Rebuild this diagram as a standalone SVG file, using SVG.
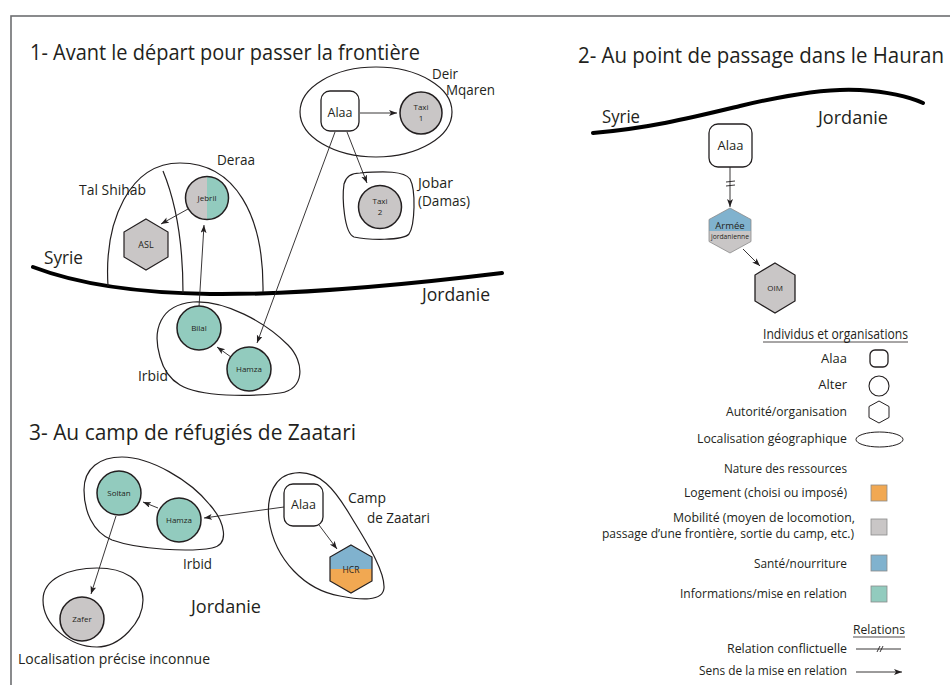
<svg xmlns="http://www.w3.org/2000/svg" width="950" height="685" viewBox="0 0 950 685">
<defs>
<style>
text{font-family:"Open Sans","Noto Sans","Liberation Sans",sans-serif;fill:#231f20}
.t{font-size:22px}
.l{font-size:15px}
.c{font-size:18px}
.g{font-size:13px;text-anchor:end}
.n{font-size:8px;text-anchor:middle}
.box{fill:#fff;stroke:#231f20;stroke-width:1.3}
.ci{stroke:#231f20;stroke-width:1.5}
.loc{fill:none;stroke:#231f20;stroke-width:1.2}
.bd{fill:none;stroke:#000;stroke-width:4;stroke-linecap:round}
.e{fill:none;stroke:#231f20;stroke-width:0.9}
.gr{fill:#c9c6c6}
.tl{fill:#92cbbe}
.bl{fill:#80b2ce}
.or{fill:#f1a852}
.sq{stroke:#8a8a8a;stroke-width:0.8}
</style>
<marker id="a" markerUnits="userSpaceOnUse" markerWidth="9" markerHeight="7" refX="8" refY="3" orient="auto">
<path d="M0,0 L8,3 L0,6 L2,3 Z" fill="#231f20"/>
</marker>
<clipPath id="hexA"><polygon points="730,208 751,219.5 751,241.5 730,253 709,241.5 709,219.5"/></clipPath>
<clipPath id="hexH"><polygon points="351,545 372,557 372,581 351,593 330,581 330,557"/></clipPath>
<clipPath id="jeb"><circle cx="207" cy="198" r="21.5"/></clipPath>
</defs>

<rect x="11" y="16" width="960" height="700" fill="none" stroke="#6d6e71" stroke-width="1.6"/>

<g id="titles">
<text class="t" x="30" y="60" textLength="390" lengthAdjust="spacingAndGlyphs">1- Avant le départ pour passer la frontière</text>
<text class="t" x="578" y="63" textLength="366" lengthAdjust="spacingAndGlyphs">2- Au point de passage dans le Hauran</text>
<text class="t" x="29" y="440" textLength="327" lengthAdjust="spacingAndGlyphs">3- Au camp de réfugiés de Zaatari</text>
</g>

<g id="borders">
<path class="bd" d="M33,267 C 80,285 140,293 210,294 C 300,295 420,283 502,273"/>
<path class="bd" d="M593,133 C 650,128 690,118 740,106 C 790,94 830,88 860,90 C 890,92 910,97 923,103"/>
</g>

<g id="places">
<text class="c" x="44" y="264" textLength="39" lengthAdjust="spacingAndGlyphs">Syrie</text>
<text class="c" x="422" y="301" textLength="68" lengthAdjust="spacingAndGlyphs">Jordanie</text>
<text class="c" x="602" y="123" textLength="38" lengthAdjust="spacingAndGlyphs">Syrie</text>
<text class="c" x="818" y="124" textLength="70" lengthAdjust="spacingAndGlyphs">Jordanie</text>
<text class="c" x="191" y="613" textLength="70" lengthAdjust="spacingAndGlyphs">Jordanie</text>
</g>

<!-- Section 1 locations -->
<g id="loc-deir">
<ellipse class="loc" cx="376" cy="112" rx="76" ry="45"/>
<text class="l" x="432" y="79" textLength="26" lengthAdjust="spacingAndGlyphs">Deir</text>
<text class="l" x="446" y="95" textLength="49" lengthAdjust="spacingAndGlyphs">Mqaren</text>
</g>
<g id="loc-jobar">
<path class="loc" d="M360,173 C 385,171 404,171 410,179 C 416,190 415,225 409,234 C 403,241 368,240 354,237 C 344,233 342,198 344,184 C 346,176 351,173 360,173 Z"/>
<text class="l" x="418" y="188" textLength="35" lengthAdjust="spacingAndGlyphs">Jobar</text>
<text class="l" x="418" y="206" textLength="52" lengthAdjust="spacingAndGlyphs">(Damas)</text>
</g>
<g id="loc-deraa">
<path class="loc" d="M108,286 C 104,220 130,163 180,163 C 235,163 264,215 263,292"/>
<path class="loc" d="M163,171 C 175,200 183,240 183,293"/>
<text class="l" x="217" y="165" textLength="38" lengthAdjust="spacingAndGlyphs">Deraa</text>
<text class="l" x="79" y="195" textLength="67" lengthAdjust="spacingAndGlyphs">Tal Shihab</text>
</g>
<g id="loc-irbid1">
<path class="loc" d="M160,357 C 152,330 160,305 193,302 C 225,300 265,322 288,345 C 305,362 305,390 280,393 C 250,397 200,397 180,385 C 168,378 163,368 160,357 Z"/>
<text class="l" x="138" y="381" textLength="30" lengthAdjust="spacingAndGlyphs">Irbid</text>
</g>

<!-- Section 3 locations -->
<g id="loc-irbid3">
<path class="loc" d="M84,490 C 84,468 100,457 122,457 C 150,457 190,480 210,505 C 225,522 230,545 212,548 C 190,552 140,550 112,540 C 92,532 84,510 84,490 Z"/>
<text class="l" x="183" y="569" textLength="29" lengthAdjust="spacingAndGlyphs">Irbid</text>
</g>
<g id="loc-zafer">
<path class="loc" d="M43,600 C 43,578 70,568 97,568 C 125,568 143,580 143,600 C 143,622 120,647 97,647 C 70,647 43,625 43,600 Z"/>
<text class="l" x="18" y="664" textLength="192" lengthAdjust="spacingAndGlyphs">Localisation précise inconnue</text>
</g>
<g id="loc-camp">
<path class="loc" d="M269,520 C 266,495 275,475 295,473 C 320,470 335,490 350,515 C 365,540 385,570 384,588 C 383,602 360,600 340,596 C 305,590 275,560 269,520 Z"/>
<text class="l" x="348" y="503" textLength="38" lengthAdjust="spacingAndGlyphs">Camp</text>
<text class="l" x="367" y="523" textLength="63" lengthAdjust="spacingAndGlyphs">de Zaatari</text>
</g>

<g id="connectors">
<line class="e" x1="360" y1="113" x2="397" y2="113" marker-end="url(#a)"/>
<line class="e" x1="347" y1="132" x2="367" y2="183" marker-end="url(#a)"/>
<line class="e" x1="335" y1="132" x2="257" y2="343" marker-end="url(#a)"/>
<line class="e" x1="188" y1="209" x2="161" y2="224" marker-end="url(#a)"/>
<line class="e" x1="199" y1="307" x2="204" y2="225" marker-end="url(#a)"/>
<line class="e" x1="231" y1="357" x2="217" y2="347" marker-end="url(#a)"/>
<line class="e" x1="730" y1="167" x2="730" y2="207" marker-end="url(#a)"/>
<line class="e" x1="726" y1="182" x2="735" y2="181"/>
<line class="e" x1="726" y1="186" x2="735" y2="185"/>
<line class="e" x1="743" y1="249" x2="760" y2="266" marker-end="url(#a)"/>
<line class="e" x1="284" y1="507" x2="204" y2="518" marker-end="url(#a)"/>
<line class="e" x1="319" y1="525" x2="337" y2="549" marker-end="url(#a)"/>
<line class="e" x1="158" y1="508" x2="143" y2="502" marker-end="url(#a)"/>
<line class="e" x1="116" y1="516" x2="91" y2="594" marker-end="url(#a)"/>
</g>

<!-- Section 1 nodes -->
<g id="alaa1">
<rect class="box" x="321" y="91" width="38" height="40" rx="9"/>
<text x="340" y="117" font-size="12.5" text-anchor="middle">Alaa</text>
</g>
<g id="taxi1">
<circle class="ci gr" cx="421" cy="113" r="21"/>
<text class="n" x="421" y="110">Taxi</text>
<text class="n" x="421" y="121">1</text>
</g>
<g id="taxi2">
<circle class="ci gr" cx="380" cy="207" r="21.5"/>
<text class="n" x="380" y="204">Taxi</text>
<text class="n" x="380" y="215">2</text>
</g>
<g id="jebril">
<g clip-path="url(#jeb)">
<rect class="gr" x="185" y="176" width="22" height="44"/>
<rect class="tl" x="207" y="176" width="22" height="44"/>
</g>
<circle cx="207" cy="198" r="21.5" fill="none" stroke="#231f20" stroke-width="1.5"/>
<text class="n" x="207" y="201">Jebril</text>
</g>
<g id="asl">
<polygon class="gr" points="146,219 168,232 168,257 146,270 124,257 124,232" stroke="#231f20" stroke-width="1.2"/>
<text x="146" y="248" font-size="9" text-anchor="middle">ASL</text>
</g>
<g id="bilal">
<circle class="ci tl" cx="199" cy="328" r="22"/>
<text class="n" x="199" y="331" font-size="8.5">Bilal</text>
</g>
<g id="hamza1">
<circle class="ci tl" cx="249" cy="369" r="22"/>
<text class="n" x="249" y="372" font-size="8.5">Hamza</text>
</g>

<!-- Section 2 nodes -->
<g id="alaa2">
<rect class="box" x="709" y="124" width="43" height="43" rx="9"/>
<text x="730.5" y="150" font-size="13" text-anchor="middle">Alaa</text>
</g>
<g id="armee">
<g clip-path="url(#hexA)">
<rect class="bl" x="708" y="207" width="44" height="24"/>
<rect class="gr" x="708" y="231" width="44" height="23"/>
</g>
<polygon points="730,208 751,219.5 751,241.5 730,253 709,241.5 709,219.5" fill="none" stroke="#8a8a8a" stroke-width="0.8"/>
<text x="730" y="229" font-size="9.5" text-anchor="middle">Armée</text>
<text x="730" y="239" font-size="6.5" text-anchor="middle" textLength="38" lengthAdjust="spacingAndGlyphs">jordanienne</text>
</g>
<g id="oim">
<polygon class="gr" points="775,263 795,275 795,301 775,313 755,301 755,275" stroke="#231f20" stroke-width="1.3"/>
<text class="n" x="775" y="291">OIM</text>
</g>

<!-- Section 3 nodes -->
<g id="alaa3">
<rect class="box" x="284" y="484" width="39" height="42" rx="9"/>
<text x="303.5" y="509" font-size="12.5" text-anchor="middle">Alaa</text>
</g>
<g id="hcr">
<g clip-path="url(#hexH)">
<rect class="bl" x="329" y="544" width="44" height="25"/>
<rect class="or" x="329" y="569" width="44" height="25"/>
</g>
<polygon points="351,545 372,557 372,581 351,593 330,581 330,557" fill="none" stroke="#231f20" stroke-width="1.2"/>
<text x="351" y="573" font-size="8.5" text-anchor="middle">HCR</text>
</g>
<g id="soltan">
<circle class="ci tl" cx="119" cy="493" r="22"/>
<text class="n" x="119" y="496" font-size="8.3">Soltan</text>
</g>
<g id="hamza3">
<circle class="ci tl" cx="179" cy="520" r="22"/>
<text class="n" x="179" y="523" font-size="8.3">Hamza</text>
</g>
<g id="zafer">
<circle class="ci gr" cx="82" cy="619" r="22"/>
<text class="n" x="82" y="622" font-size="8.3">Zafer</text>
</g>

<!-- Legend -->
<g id="legend">
<text x="763" y="339" font-size="14" textLength="145" lengthAdjust="spacingAndGlyphs">Individus et organisations</text>
<line x1="763" y1="342" x2="908" y2="342" stroke="#231f20" stroke-width="0.8"/>
<text class="g" x="847" y="363">Alaa</text>
<rect class="box" x="870" y="350" width="18" height="17" rx="5"/>
<text class="g" x="847" y="389">Alter</text>
<circle cx="879" cy="386" r="10" fill="#fff" stroke="#231f20" stroke-width="1.1"/>
<text class="g" x="847" y="416" textLength="121" lengthAdjust="spacingAndGlyphs">Autorité/organisation</text>
<polygon points="879,401 889,406.5 889,417.5 879,423 869,417.5 869,406.5" fill="#fff" stroke="#231f20" stroke-width="1"/>
<text class="g" x="847" y="443" textLength="150" lengthAdjust="spacingAndGlyphs">Localisation géographique</text>
<ellipse cx="879.5" cy="439.5" rx="23.5" ry="7.5" fill="#fff" stroke="#231f20" stroke-width="1"/>
<text class="g" x="847" y="473" textLength="123" lengthAdjust="spacingAndGlyphs">Nature des ressources</text>
<text class="g" x="847" y="497" textLength="163" lengthAdjust="spacingAndGlyphs">Logement (choisi ou imposé)</text>
<rect class="or sq" x="871" y="485" width="16" height="16"/>
<text class="g" x="855" y="522" font-size="12.5" textLength="182" lengthAdjust="spacingAndGlyphs">Mobilité (moyen de locomotion,</text>
<text class="g" x="854" y="538" font-size="12.5" textLength="252" lengthAdjust="spacingAndGlyphs">passage d’une frontière, sortie du camp, etc.)</text>
<rect class="gr sq" x="871" y="519" width="16" height="16"/>
<text class="g" x="847" y="568" textLength="93" lengthAdjust="spacingAndGlyphs">Santé/nourriture</text>
<rect class="bl sq" x="871" y="555" width="16" height="16"/>
<text class="g" x="847" y="598" textLength="167" lengthAdjust="spacingAndGlyphs">Informations/mise en relation</text>
<rect class="tl sq" x="871" y="586" width="16" height="16"/>
<text x="853" y="634" font-size="13" textLength="52" lengthAdjust="spacingAndGlyphs">Relations</text>
<line x1="853" y1="637" x2="905" y2="637" stroke="#231f20" stroke-width="0.8"/>
<text class="g" x="847" y="653" textLength="120" lengthAdjust="spacingAndGlyphs">Relation conflictuelle</text>
<line class="e" x1="856" y1="649" x2="901" y2="649"/>
<line class="e" x1="877" y1="652" x2="880" y2="646" stroke-width="1.1"/>
<line class="e" x1="880" y1="652" x2="883" y2="646" stroke-width="1.1"/>
<text class="g" x="847" y="675" textLength="148" lengthAdjust="spacingAndGlyphs">Sens de la mise en relation</text>
<line class="e" x1="856" y1="672" x2="902" y2="672" marker-end="url(#a)"/>
</g>
</svg>
